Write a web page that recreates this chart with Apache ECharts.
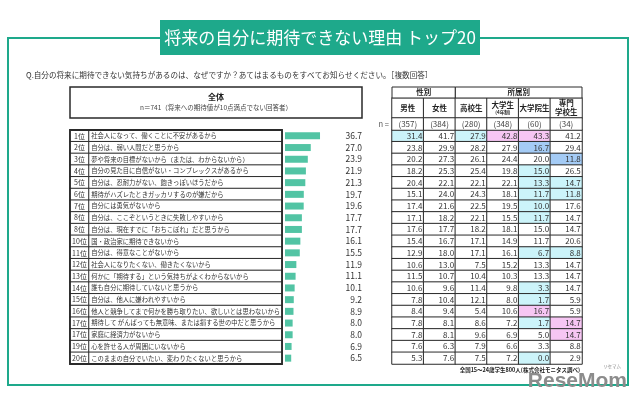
<!DOCTYPE html>
<html><head><meta charset="utf-8">
<script src="https://cdn.jsdelivr.net/npm/echarts@6/dist/echarts.min.js"></script>
<style>html,body{margin:0;padding:0;background:#fff}#c{width:640px;height:404px}</style>
</head><body><div id="c"></div>
<script>
// ---------- data ----------
const title = '将来の自分に期待できない理由 トップ20';
const question = 'Q.自分の将来に期待できない気持ちがあるのは、なぜですか？あてはまるものをすべてお知らせください。［複数回答］';
const totalLabel = '全体';
const totalN = 'n＝741（将来への期待値が10点満点でない回答者）';
const ranks = ['1位','2位','3位','4位','5位','6位','7位','8位','8位','10位','11位','12位','13位','14位','15位','16位','17位','17位','19位','20位'];
const reasons = [
  '社会人になって、働くことに不安があるから',
  '自分は、弱い人間だと思うから',
  '夢や将来の目標がないから（または、わからないから）',
  '自分の見た目に自信がない・コンプレックスがあるから',
  '自分は、忍耐力がない、飽きっぽいほうだから',
  '期待がハズレたときガッカリするのが嫌だから',
  '自分には勇気がないから',
  '自分は、ここぞというときに失敗しやすいから',
  '自分は、現在すでに「おちこぼれ」だと思うから',
  '国・政治家に期待できないから',
  '自分は、得意なことがないから',
  '社会人になりたくない、働きたくないから',
  '何かに「期待する」という気持ちがよくわからないから',
  '誰も自分に期待していないと思うから',
  '自分は、他人に嫌われやすいから',
  '他人と競争してまで何かを勝ち取りたい、欲しいとは思わないから',
  '期待して がんばっても無意味、または損する世の中だと思うから',
  '家庭に経済力がないから',
  '心を許せる人が周囲にいないから',
  'このままの自分でいたい、変わりたくないと思うから'
];
const totals = [36.7,27.0,23.9,21.9,21.3,19.7,19.6,17.7,17.7,16.1,15.5,11.9,11.1,10.1,9.2,8.9,8.0,8.0,6.9,6.5];
const groups = ['性別','所属別'];
const groupSpans = [[0,2],[2,6]];
const columns = ['男性','女性','高校生','大学生','大学院生','専門学校生'];
const columnNotes = ['','','','(4年制)','',''];
const nValues = [357,384,280,348,60,34];
const male       = [31.4,23.8,20.2,18.2,20.4,15.1,17.4,17.1,17.6,15.4,12.9,10.6,11.5,10.6,7.8,8.4,7.8,7.8,7.6,5.3];
const female     = [41.7,29.9,27.3,25.3,22.1,24.0,21.6,18.2,17.7,16.7,18.0,13.0,10.7,9.6,10.4,9.4,8.1,8.1,6.3,7.6];
const highSchool = [27.9,28.2,26.1,25.4,22.1,24.3,22.5,22.1,18.2,17.1,17.1,7.5,10.4,11.4,12.1,5.4,8.6,9.6,7.9,7.5];
const university = [42.8,27.9,24.4,19.8,22.1,18.1,19.5,15.5,18.1,14.9,16.1,15.2,10.3,9.8,8.0,10.6,7.2,6.9,6.6,7.2];
const graduate   = [43.3,16.7,20.0,15.0,13.3,11.7,10.0,11.7,15.0,11.7,6.7,13.3,13.3,3.3,1.7,16.7,1.7,5.0,3.3,0.0];
const vocational = [41.2,29.4,11.8,26.5,14.7,11.8,17.6,14.7,14.7,20.6,8.8,14.7,14.7,14.7,5.9,5.9,14.7,14.7,8.8,2.9];
// highlighted cells [row, column]
const cyanCells = [[0,0],[0,2],[3,4],[4,4],[4,5],[5,4],[5,5],[6,4],[7,4],[10,4],[10,5],[13,4],[14,4],[16,4],[19,4]];
const pinkCells = [[0,3],[0,4],[15,4],[16,5],[17,5]];
const blueCells = [[1,4],[2,5]];
const source = '全国15～24歳学生800人(株式会社モニタス調べ)';

// ---------- build ----------
const FONT = "'Noto Sans CJK JP', 'Noto Sans', sans-serif";
const TEAL = '#1ea98b';
const BORDER = '#2a2a2a';
const cols = [male, female, highSchool, university, graduate, vocational];
const cellColor = {};
cyanCells.forEach(([r,c]) => cellColor[r+'_'+c] = '#ccf4fa');
pinkCells.forEach(([r,c]) => cellColor[r+'_'+c] = '#f6c6f3');
blueCells.forEach(([r,c]) => cellColor[r+'_'+c] = '#a4cbf5');

const rowIdx = ranks.map((_, i) => i);
const colIdx = columns.map((_, i) => i);

const tableData = [];
cols.forEach((arr, c) => arr.forEach((v, r) => {
  tableData.push({ value: [c, r, v], itemStyle: { color: cellColor[r+'_'+c] || '#ffffff' } });
}));

const T = 130, H = 234;
const grids = [
  { left: 70,  top: T, width: 19,  height: H },
  { left: 89,  top: T, width: 193, height: H },
  { left: 285, top: T, width: 77,  height: H },
  { left: 392, top: T, width: 190, height: H },
  { left: 392, top: 98, width: 190, height: 20 },
  { left: 392, top: 118, width: 190, height: 12 },
  { left: 392, top: 87, width: 190, height: 11 }
].map(g => Object.assign({ containLabel: false, outerBoundsMode: 'none' }, g));

const hiddenCat = (gi, data, inverse) => ({ type: 'category', gridIndex: gi, data, inverse: !!inverse, show: false });

const xAxis = [
  hiddenCat(0, [0]),
  hiddenCat(1, [0]),
  { type: 'value', gridIndex: 2, min: 0, max: 80.7, show: false },
  hiddenCat(3, colIdx),
  hiddenCat(4, colIdx),
  hiddenCat(5, colIdx),
  { type: 'value', gridIndex: 6, min: 0, max: 6, show: false }
];
const yAxis = [
  hiddenCat(0, rowIdx, true),
  hiddenCat(1, rowIdx, true),
  { type: 'category', gridIndex: 2, data: rowIdx, inverse: true, position: 'right',
    axisLine: { show: false }, axisTick: { show: false },
    axisLabel: { show: true, align: 'right', margin: 0, fontSize: 8.5, color: '#333', fontFamily: FONT,
      formatter: (v, i) => totals[i].toFixed(1) } },
  hiddenCat(3, rowIdx, true),
  hiddenCat(4, [0]),
  hiddenCat(5, [0]),
  hiddenCat(6, [0])
];

const cellStyle = { borderColor: BORDER, borderWidth: 1, color: '#ffffff' };
const series = [
  { type: 'heatmap', xAxisIndex: 0, yAxisIndex: 0, silent: true,
    data: ranks.map((_, r) => [0, r, r]), itemStyle: cellStyle,
    label: { show: true, position: 'inside', fontSize: 7, color: '#333', fontFamily: FONT,
      formatter: p => ranks[p.value[1]] } },
  { type: 'heatmap', xAxisIndex: 1, yAxisIndex: 1, silent: true,
    data: reasons.map((_, r) => [0, r, r]), itemStyle: cellStyle,
    label: { show: true, position: 'insideLeft', distance: 3, fontSize: 6.3, color: '#333', fontFamily: FONT,
      formatter: p => reasons[p.value[1]] } },
  { type: 'bar', xAxisIndex: 2, yAxisIndex: 2, silent: true, data: totals, barWidth: 7,
    itemStyle: { color: '#52c4a4' } },
  { type: 'heatmap', xAxisIndex: 3, yAxisIndex: 3, silent: true, data: tableData,
    itemStyle: { borderColor: BORDER, borderWidth: 1 },
    label: { show: true, position: 'insideRight', distance: 2, fontSize: 8, color: '#333', fontFamily: FONT,
      formatter: p => p.value[2].toFixed(1) } },
  { type: 'heatmap', xAxisIndex: 4, yAxisIndex: 4, silent: true,
    data: columns.map((_, c) => [c, 0, c]), itemStyle: cellStyle,
    label: { show: true, position: 'inside', fontSize: 7.5, color: '#222', fontFamily: FONT, fontWeight: 'bold', lineHeight: 9,
      formatter: p => {
        const c = p.value[0];
        let name = columns[c];
        if (name.length > 4) name = name.slice(0, 2) + '\n' + name.slice(2);
        return columnNotes[c] ? name + '\n{s|' + columnNotes[c] + '}' : name;
      },
      rich: { s: { fontSize: 4.5, fontWeight: 'bold', color: '#222', lineHeight: 6, fontFamily: FONT } } } },
  { type: 'heatmap', xAxisIndex: 5, yAxisIndex: 5, silent: true,
    data: nValues.map((_, c) => [c, 0, c]), itemStyle: cellStyle,
    label: { show: true, position: 'inside', fontSize: 8, color: '#444', fontFamily: FONT,
      formatter: p => '(' + nValues[p.value[0]] + ')' } },
  { type: 'custom', xAxisIndex: 6, yAxisIndex: 6, silent: true,
    data: groupSpans.map((s, i) => [s[0], s[1], i]),
    renderItem: (params, api) => {
      const a = api.coord([api.value(0), 0]);
      const b = api.coord([api.value(1), 0]);
      const h = api.size([0, 1])[1];
      return { type: 'rect',
        shape: { x: a[0], y: a[1] - h / 2, width: b[0] - a[0], height: h },
        style: { fill: '#fff', stroke: BORDER, lineWidth: 1 },
        textContent: { style: { text: groups[api.value(2)], fontSize: 7.5, fontWeight: 'bold', fill: '#222', fontFamily: FONT } },
        textConfig: { position: 'inside' } };
    } }
];

const graphic = [
  { type: 'polyline', silent: true, shape: { points: [[160,38],[8,38],[8,385],[628,385],[628,38],[480,38]] },
    style: { stroke: TEAL, lineWidth: 2, fill: null } },
  { type: 'rect', silent: true, shape: { x: 160, y: 20, width: 320, height: 35 }, style: { fill: TEAL } },
  { type: 'text', silent: true, x: 320, y: 38, style: { text: title, fill: '#fff', fontSize: 17, fontFamily: FONT,
      align: 'center', verticalAlign: 'middle' } },
  { type: 'text', silent: true, x: 26, y: 75, style: { text: question, fill: '#333', fontSize: 7.6, fontFamily: FONT,
      verticalAlign: 'middle' } },
  { type: 'rect', silent: true, shape: { x: 70, y: 87, width: 292, height: 31 }, style: { fill: '#fff', stroke: BORDER, lineWidth: 1.5 } },
  { type: 'text', silent: true, x: 216, y: 97, style: { text: totalLabel, fill: '#222', fontSize: 8, fontWeight: 'bold', fontFamily: FONT,
      align: 'center', verticalAlign: 'middle' } },
  { type: 'text', silent: true, x: 216, y: 108, style: { text: totalN, fill: '#444', fontSize: 6.5, fontFamily: FONT,
      align: 'center', verticalAlign: 'middle' } },
  { type: 'rect', silent: true, z: 100, shape: { x: 70, y: 130, width: 212, height: 234 }, style: { fill: null, stroke: BORDER, lineWidth: 1.8 } },
  { type: 'text', silent: true, x: 389, y: 124, style: { text: 'n =', fill: '#555', fontSize: 7.5, fontFamily: FONT,
      align: 'right', verticalAlign: 'middle' } },
  { type: 'text', silent: true, x: 580, y: 370, style: { text: source, fill: '#222', fontSize: 5.5, fontWeight: 'bold', fontFamily: FONT,
      align: 'right', verticalAlign: 'middle' } },
  { type: 'text', silent: true, x: 627, y: 381, z: 100, style: { text: 'ReseMom', fill: '#8c8c8c', fontSize: 21, fontWeight: 'bold',
      fontFamily: "'Liberation Sans', Arial, sans-serif", align: 'right', verticalAlign: 'middle' } },
  { type: 'text', silent: true, x: 612, y: 366, z: 100, style: { text: 'リセマム', fill: '#8c8c8c', fontSize: 4.5, fontFamily: FONT,
      align: 'center', verticalAlign: 'middle' } }
];

const chart = echarts.init(document.getElementById('c'), null, { renderer: 'canvas' });
chart.setOption({
  animation: false,
  backgroundColor: '#ffffff',
  textStyle: { fontFamily: FONT },
  grid: grids, xAxis, yAxis, series, graphic
});
</script></body></html>
